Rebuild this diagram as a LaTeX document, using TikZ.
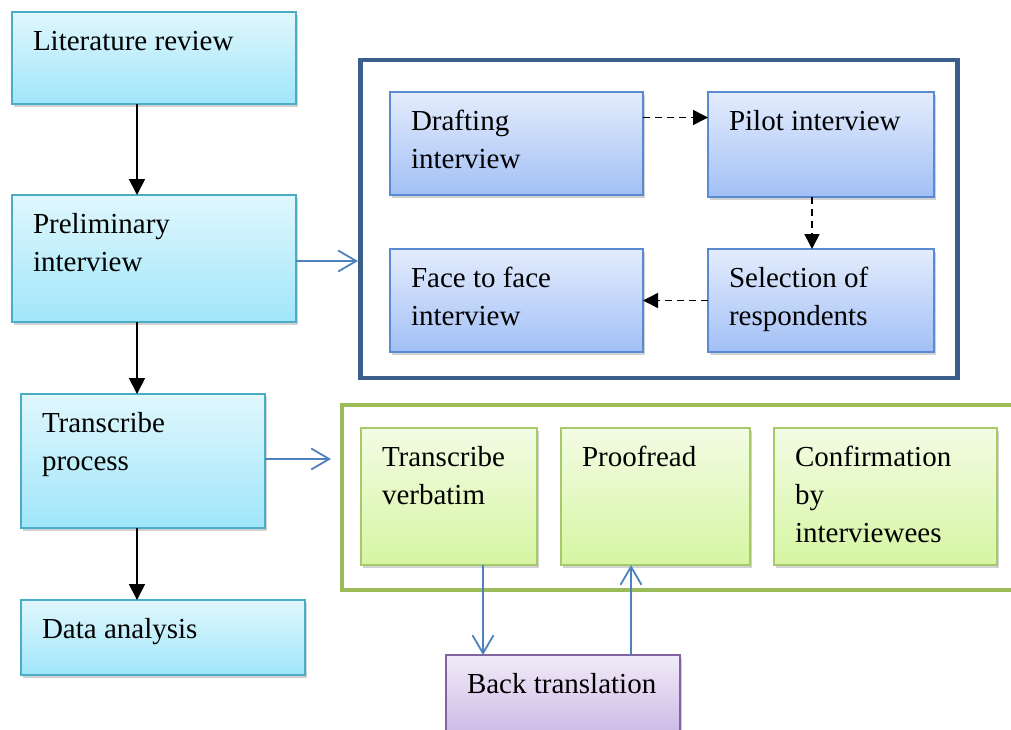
\documentclass[tikz,border=0pt]{standalone}
\usepackage{fontspec}
\setmainfont{Liberation Serif}
\usetikzlibrary{arrows.meta,shadows}
\definecolor{cyantop}{HTML}{E0F7FD}
\definecolor{cyanbot}{HTML}{A0E6FA}
\definecolor{cyanline}{HTML}{4BACC6}
\definecolor{bluetop}{HTML}{E4ECFC}
\definecolor{bluebot}{HTML}{A2C0F6}
\definecolor{blueline}{HTML}{5A8BD2}
\definecolor{greentop}{HTML}{F3FCE4}
\definecolor{greenbot}{HTML}{D6F5A2}
\definecolor{greenline}{HTML}{A6C96A}
\definecolor{purptop}{HTML}{F1EBF8}
\definecolor{purpbot}{HTML}{C7B3E3}
\definecolor{purpline}{HTML}{8064A2}
\definecolor{frameblue}{HTML}{3B5E8C}
\definecolor{framegreen}{HTML}{9BBB59}
\definecolor{arrowblue}{HTML}{4F81BD}
\tikzset{
  basebox/.style={draw, line width=1.5pt, outer sep=0pt, inner sep=0pt,
    drop shadow={opacity=0.35, shadow xshift=1.5pt, shadow yshift=-3pt}},
  cyanbox/.style={basebox, draw=cyanline, top color=cyantop, bottom color=cyanbot},
  bluebox/.style={basebox, draw=blueline, top color=bluetop, bottom color=bluebot},
  greenbox/.style={basebox, draw=greenline, top color=greentop, bottom color=greenbot},
  purpbox/.style={basebox, draw=purpline, top color=purptop, bottom color=purpbot},
  boxtext/.style={anchor=north west, inner sep=0pt, outer sep=0pt, align=left,
    font=\fontsize{29}{38}\selectfont},
  framebox/.style={draw, line width=4.5pt, outer sep=0pt, inner sep=0pt, anchor=north west},
  blackarr/.style={line width=1.8pt, -{Triangle[width=16pt,length=16pt]}},
  dasharr/.style={line width=1.6pt, dash pattern=on 7pt off 5pt, -{Triangle[width=15pt,length=15pt]}},
  bluearr/.style={line width=1.8pt, draw=arrowblue, -{Straight Barb[width=21pt,length=18pt,line width=1.8pt]}},
}
\newcommand\flowbox[7]{%
  \node[#2, anchor=north west, minimum width=#5pt, minimum height=#6pt] (#1) at (#3,#4) {};
  \node[boxtext] (#1-t) at ([xshift=21pt,yshift=-11.4pt]#1.north west) {\strut #7};
}
\begin{document}
\begin{tikzpicture}[x=1pt,y=-1pt]
\useasboundingbox[fill=white] (0,0) rectangle (1011,729);
\clip (0,0) rectangle (1011,729);
% frames
\node[framebox, draw=frameblue, minimum width=597pt, minimum height=318pt] (f1) at (360.5,60) {};
\node[framebox, draw=framegreen, minimum width=700pt, minimum height=185pt] (f2) at (342,405) {};
% left column
\flowbox{lr}{cyanbox}{12}{12}{284}{92}{Literature review}
\flowbox{pi}{cyanbox}{12}{195}{284}{127}{Preliminary\\interview}
\flowbox{tp}{cyanbox}{21}{394}{244}{134}{Transcribe\\process}
\flowbox{da}{cyanbox}{21}{600}{284}{75}{Data analysis}
% interview frame
\flowbox{dr}{bluebox}{390}{92}{253}{103}{Drafting\\interview}
\flowbox{pl}{bluebox}{708}{92}{226}{105}{Pilot interview}
\flowbox{ff}{bluebox}{390}{249}{253}{103}{Face to face\\interview}
\flowbox{sr}{bluebox}{708}{249}{226}{103}{Selection of\\respondents}
% transcribe frame
\flowbox{tv}{greenbox}{361}{428}{176}{137}{Transcribe\\verbatim}
\flowbox{pr}{greenbox}{561}{428}{189}{137}{Proofread}
\flowbox{ci}{greenbox}{774}{428}{223}{137}{Confirmation\\by\\interviewees}
\flowbox{bt}{purpbox}{446}{655}{234}{90}{Back translation}
% black arrows
\draw[blackarr] ([xshift=-17pt]lr.south) -- ([xshift=-17pt]lr.south |- pi.north);
\draw[blackarr] ([xshift=-17pt]pi.south) -- ([xshift=-17pt]pi.south |- tp.north);
\draw[blackarr] ([xshift=-6pt]tp.south) -- ([xshift=-6pt]tp.south |- da.north);
% dashed arrows
\draw[dasharr] ([yshift=26pt]dr.east) -- ([yshift=26pt]dr.east -| pl.west);
\draw[dasharr] ([xshift=-9pt]pl.south) -- ([xshift=-9pt]pl.south |- sr.north);
\draw[dasharr] (sr.west) -- (sr.west -| ff.east);
% blue arrows
\draw[bluearr, shorten >=2.5pt] ([yshift=-2.5pt]pi.east) -- ([yshift=-2.5pt]pi.east -| f1.west);
\draw[bluearr, shorten >=11pt] ([yshift=2pt]tp.east) -- ([yshift=2pt]tp.east -| f2.west);
\draw[bluearr] ([xshift=34pt]tv.south) -- ([xshift=34pt]tv.south |- bt.north);
\draw[bluearr] ([xshift=68pt]bt.north) -- ([xshift=68pt]bt.north |- pr.south);
\end{tikzpicture}
\end{document}
